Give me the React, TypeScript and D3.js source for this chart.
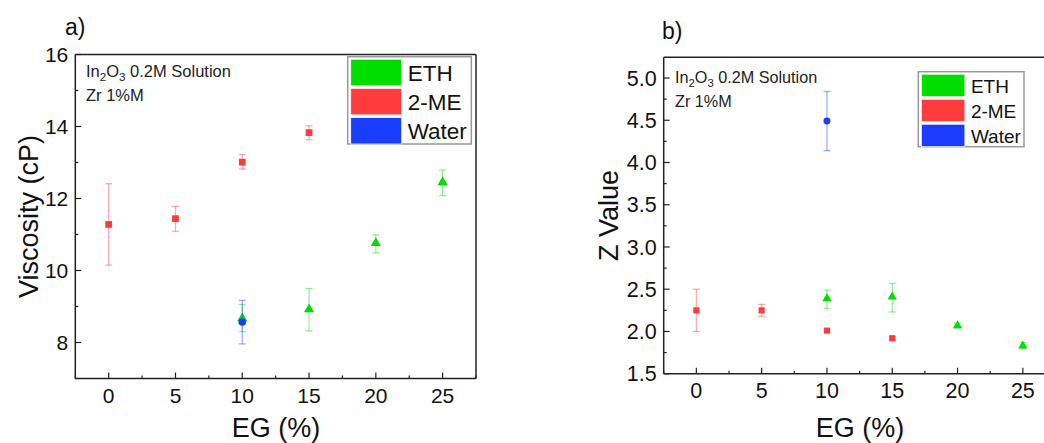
import React from "react";
import * as d3 from "d3";

// ---- Data ----
const xTicks = [0, 5, 10, 15, 20, 25];
const seriesNames = ["ETH", "2-ME", "Water"];
const seriesColors = ["#00dd00", "#ff3b3b", "#1a3cff"];

// Panel a) Viscosity (cP)
const visEthX = [10, 15, 20, 25];
const visEthY = [8.67, 8.92, 10.76, 12.45];
const visEthLo = [8.3, 8.32, 10.49, 12.08];
const visEthHi = [9.06, 9.5, 10.99, 12.79];

const visMeX = [0, 5, 10, 15];
const visMeY = [11.28, 11.44, 13.01, 13.83];
const visMeLo = [10.15, 11.09, 12.82, 13.63];
const visMeHi = [12.41, 11.78, 13.22, 14.02];

const visWaterX = [10];
const visWaterY = [8.57];
const visWaterLo = [7.96];
const visWaterHi = [9.17];

const visYTicks = [8, 10, 12, 14, 16];

// Panel b) Z value
const zEthX = [10, 15, 20, 25];
const zEthY = [2.39, 2.41, 2.07, 1.83];
const zEthLo = [2.27, 2.23, 2.04, 1.79];
const zEthHi = [2.49, 2.57, 2.1, 1.87];

const zMeX = [0, 5, 10, 15];
const zMeY = [2.25, 2.25, 2.01, 1.92];
const zMeLo = [2.0, 2.18, 1.99, 1.9];
const zMeHi = [2.5, 2.32, 2.03, 1.94];

const zWaterX = [10];
const zWaterY = [4.49];
const zWaterLo = [4.14];
const zWaterHi = [4.84];

const zYTicks = [1.5, 2.0, 2.5, 3.0, 3.5, 4.0, 4.5, 5.0];

const FONT = "Arial, 'Liberation Sans', sans-serif";

type Series = { x: number[]; y: number[]; lo: number[]; hi: number[]; shape: d3.SymbolType; color: string; size: number };

function Panel(props: {
  left: number; right: number; top: number; bottom: number;
  xDomain: [number, number]; yDomain: [number, number];
  yTicks: number[]; yMinorStep: number; yFmt: (v: number) => string;
  series: Series[];
  yLabel: string; yLabelX: number; xLabelX: number; xLabelY: number;
  tickFont: number; labelFont: number;
  panelLabel: string; panelLabelX: number; panelLabelY: number;
  annoX: number; annoY: number; annoFont: number;
  legend: { x: number; y: number; w: number; h: number; sw: number; font: number };
  clipRight: boolean; xTickLabelY: number;
}) {
  const p = props;
  const x = d3.scaleLinear().domain(p.xDomain).range([p.left, p.right]);
  const y = d3.scaleLinear().domain(p.yDomain).range([p.bottom, p.top]);
  const xMinor = d3.range(p.xDomain[0], p.xDomain[1] + 0.001, 2.5);
  const yMinor = d3.range(p.yDomain[0], p.yDomain[1] + 0.0001, p.yMinorStep);
  const axisColor = "#222";
  const lg = p.legend;
  const rowH = lg.h / 3;
  return (
    <g>
      {/* frame */}
      <line x1={p.left} x2={p.left} y1={p.top} y2={p.bottom} stroke={axisColor} strokeWidth={1.5} />
      <line x1={p.left} x2={p.right} y1={p.bottom} y2={p.bottom} stroke={axisColor} strokeWidth={1.5} />
      <line x1={p.left} x2={p.right} y1={p.top} y2={p.top} stroke={axisColor} strokeWidth={1.5} />
      {!p.clipRight && <line x1={p.right} x2={p.right} y1={p.top} y2={p.bottom} stroke={axisColor} strokeWidth={1.5} />}
      {/* x ticks */}
      {xMinor.map((v, i) => {
        const major = Math.abs(v % 5) < 0.001;
        const len = major ? 6 : 3;
        return <line key={"xm" + i} x1={x(v)} x2={x(v)} y1={p.bottom} y2={p.bottom - len} stroke={axisColor} strokeWidth={1.2} />;
      })}
      {xTicks.map((v) => (
        <text key={"xt" + v} x={x(v)} y={p.xTickLabelY} textAnchor="middle" fontSize={p.tickFont} fontFamily={FONT} fill="#111">{v}</text>
      ))}
      {/* y ticks */}
      {yMinor.map((v, i) => {
        const major = p.yTicks.some((t) => Math.abs(t - v) < 1e-6);
        const len = major ? 6 : 3;
        return <line key={"ym" + i} x1={p.left} x2={p.left + len} y1={y(v)} y2={y(v)} stroke={axisColor} strokeWidth={1.2} />;
      })}
      {p.yTicks.map((v) => (
        <text key={"yt" + v} x={p.left - 7} y={y(v)} dy="0.36em" textAnchor="end" fontSize={p.tickFont} fontFamily={FONT} fill="#111">{p.yFmt(v)}</text>
      ))}
      {/* labels */}
      <text transform={`translate(${p.yLabelX},${(p.top + p.bottom) / 2}) rotate(-90)`} textAnchor="middle" fontSize={p.labelFont} fontFamily={FONT} fill="#111">{p.yLabel}</text>
      <text x={p.xLabelX} y={p.xLabelY} textAnchor="middle" fontSize={p.labelFont} fontFamily={FONT} fill="#111">EG (%)</text>
      <text x={p.panelLabelX} y={p.panelLabelY} fontSize={23} fontFamily={FONT} fill="#111">{p.panelLabel}</text>
      {/* annotation */}
      <text x={p.annoX} y={p.annoY} fontSize={p.annoFont} fontFamily={FONT} fill="#222">
        In<tspan fontSize={p.annoFont * 0.7} dy={p.annoFont * 0.25}>2</tspan>
        <tspan dy={-p.annoFont * 0.25}>O</tspan>
        <tspan fontSize={p.annoFont * 0.7} dy={p.annoFont * 0.25}>3</tspan>
        <tspan dy={-p.annoFont * 0.25}> 0.2M Solution</tspan>
      </text>
      <text x={p.annoX} y={p.annoY + p.annoFont * 1.5} fontSize={p.annoFont} fontFamily={FONT} fill="#222">Zr 1%M</text>
      {/* series */}
      {p.series.map((s, si) => (
        <g key={"s" + si}>
          {s.x.map((xv, i) => {
            const cx = x(xv);
            const cap = 3.5;
            return (
              <g key={"e" + i} stroke={s.color} strokeOpacity={0.45} strokeWidth={1.2}>
                <line x1={cx} x2={cx} y1={y(s.lo[i])} y2={y(s.hi[i])} />
                <line x1={cx - cap} x2={cx + cap} y1={y(s.lo[i])} y2={y(s.lo[i])} />
                <line x1={cx - cap} x2={cx + cap} y1={y(s.hi[i])} y2={y(s.hi[i])} />
              </g>
            );
          })}
          {s.x.map((xv, i) => (
            <path key={"m" + i} transform={`translate(${x(xv)},${y(s.y[i])})`} d={d3.symbol(s.shape, s.size)() || ""} fill={s.color} />
          ))}
        </g>
      ))}
      {/* legend */}
      <rect x={lg.x} y={lg.y} width={lg.w} height={lg.h} fill="#fff" stroke="#999" strokeWidth={1.5} />
      {seriesNames.map((n, i) => (
        <g key={"lg" + i}>
          <rect x={lg.x + 3} y={lg.y + 2.5 + i * rowH} width={lg.sw} height={rowH - 2.5} fill={seriesColors[i]} stroke="#fff" strokeWidth={0.8} />
          <text x={lg.x + lg.sw + 9} y={lg.y + rowH * (i + 0.5) + 1.5} dy="0.36em" fontSize={lg.font} fontFamily={FONT} fill="#111">{n}</text>
        </g>
      ))}
    </g>
  );
}

export default function App() {
  const visSeries: Series[] = [
    { x: visEthX, y: visEthY, lo: visEthLo, hi: visEthHi, shape: d3.symbolTriangle, color: seriesColors[0], size: 46 },
    { x: visMeX, y: visMeY, lo: visMeLo, hi: visMeHi, shape: d3.symbolSquare, color: seriesColors[1], size: 46 },
    { x: visWaterX, y: visWaterY, lo: visWaterLo, hi: visWaterHi, shape: d3.symbolCircle, color: seriesColors[2], size: 46 },
  ];
  const zSeries: Series[] = [
    { x: zEthX, y: zEthY, lo: zEthLo, hi: zEthHi, shape: d3.symbolTriangle, color: seriesColors[0], size: 38 },
    { x: zMeX, y: zMeY, lo: zMeLo, hi: zMeHi, shape: d3.symbolSquare, color: seriesColors[1], size: 38 },
    { x: zWaterX, y: zWaterY, lo: zWaterLo, hi: zWaterHi, shape: d3.symbolCircle, color: seriesColors[2], size: 38 },
  ];
  return (
    <svg width={1044} height={443} style={{ position: "absolute", left: 0, top: 0, background: "#fff" }}>
      <rect width={1044} height={443} fill="#fff" />
      <Panel
        left={75.3} right={476} top={54.5} bottom={378.5}
        xDomain={[-2.5, 27.5]} yDomain={[7, 16]}
        yTicks={visYTicks} yMinorStep={1} yFmt={(v) => String(v)}
        series={visSeries}
        yLabel="Viscosity (cP)" yLabelX={38} xLabelX={276} xLabelY={437}
        tickFont={21} labelFont={27}
        panelLabel="a)" panelLabelX={65} panelLabelY={35}
        annoX={86} annoY={76.5} annoFont={16.5}
        legend={{ x: 347.7, y: 56.7, w: 123.6, h: 87.3, sw: 51, font: 22.5 }}
        clipRight={false} xTickLabelY={402.5}
      />
      <Panel
        left={663.7} right={1055.5} top={57.3} bottom={373.7}
        xDomain={[-2.5, 27.5]} yDomain={[1.5, 5.245]}
        yTicks={zYTicks} yMinorStep={0.25} yFmt={(v) => v.toFixed(1)}
        series={zSeries}
        yLabel="Z Value" yLabelX={618} xLabelX={860} xLabelY={437}
        tickFont={21.5} labelFont={27}
        panelLabel="b)" panelLabelX={662} panelLabelY={39}
        annoX={675} annoY={83} annoFont={16.2}
        legend={{ x: 918.3, y: 71.7, w: 105.7, h: 75, sw: 43.6, font: 19 }}
        clipRight={true} xTickLabelY={398}
      />
    </svg>
  );
}
